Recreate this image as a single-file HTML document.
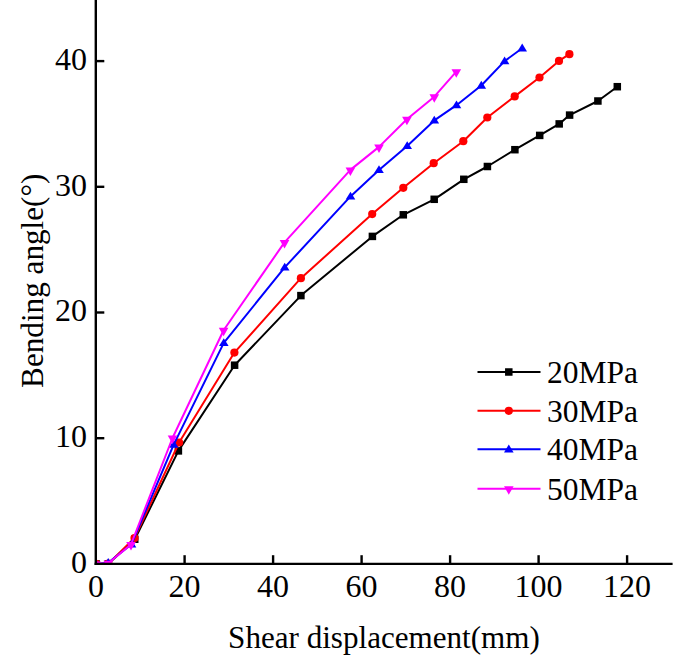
<!DOCTYPE html>
<html><head><meta charset="utf-8"><style>
html,body{margin:0;padding:0;background:#fff;}
svg{display:block;}
text{font-family:"Liberation Serif",serif;fill:#000;}
</style></head><body>
<svg width="685" height="669" viewBox="0 0 685 669">
<g>
<polyline points="96.1,563.9 108.2,563.9 134.8,539.2 178.4,450.9 234.6,365.2 300.9,295.6 372.4,236.4 403.3,214.8 434.2,199.3 463.8,179.3 487.4,166.5 514.9,149.7 539.7,135.4 559.2,123.9 569.6,115.1 597.9,101.0 617.3,86.7" fill="none" stroke="#000000" stroke-width="2" stroke-linejoin="round"/>
<rect x="92.35" y="560.15" width="7.5" height="7.5" fill="#000000"/><rect x="104.45" y="560.15" width="7.5" height="7.5" fill="#000000"/><rect x="131.00" y="535.50" width="7.5" height="7.5" fill="#000000"/><rect x="174.65" y="447.15" width="7.5" height="7.5" fill="#000000"/><rect x="230.85" y="361.45" width="7.5" height="7.5" fill="#000000"/><rect x="297.15" y="291.85" width="7.5" height="7.5" fill="#000000"/><rect x="368.65" y="232.65" width="7.5" height="7.5" fill="#000000"/><rect x="399.55" y="211.05" width="7.5" height="7.5" fill="#000000"/><rect x="430.45" y="195.55" width="7.5" height="7.5" fill="#000000"/><rect x="460.05" y="175.55" width="7.5" height="7.5" fill="#000000"/><rect x="483.65" y="162.75" width="7.5" height="7.5" fill="#000000"/><rect x="511.15" y="145.95" width="7.5" height="7.5" fill="#000000"/><rect x="535.95" y="131.65" width="7.5" height="7.5" fill="#000000"/><rect x="555.45" y="120.15" width="7.5" height="7.5" fill="#000000"/><rect x="565.85" y="111.35" width="7.5" height="7.5" fill="#000000"/><rect x="594.15" y="97.25" width="7.5" height="7.5" fill="#000000"/><rect x="613.55" y="82.95" width="7.5" height="7.5" fill="#000000"/>
<polyline points="96.1,563.9 108.4,563.6 134.5,538.0 179.1,442.5 234.4,352.6 300.9,278.2 372.2,214.1 403.3,187.8 433.7,163.2 463.3,141.2 487.3,117.5 514.7,96.4 539.5,77.5 559.0,60.9 569.4,54.2" fill="none" stroke="#ff0000" stroke-width="2" stroke-linejoin="round"/>
<circle cx="96.10" cy="563.90" r="4.1" fill="#ff0000"/><circle cx="108.40" cy="563.60" r="4.1" fill="#ff0000"/><circle cx="134.50" cy="538.00" r="4.1" fill="#ff0000"/><circle cx="179.10" cy="442.50" r="4.1" fill="#ff0000"/><circle cx="234.40" cy="352.60" r="4.1" fill="#ff0000"/><circle cx="300.90" cy="278.20" r="4.1" fill="#ff0000"/><circle cx="372.20" cy="214.10" r="4.1" fill="#ff0000"/><circle cx="403.30" cy="187.80" r="4.1" fill="#ff0000"/><circle cx="433.70" cy="163.20" r="4.1" fill="#ff0000"/><circle cx="463.30" cy="141.20" r="4.1" fill="#ff0000"/><circle cx="487.30" cy="117.50" r="4.1" fill="#ff0000"/><circle cx="514.70" cy="96.40" r="4.1" fill="#ff0000"/><circle cx="539.50" cy="77.50" r="4.1" fill="#ff0000"/><circle cx="559.00" cy="60.90" r="4.1" fill="#ff0000"/><circle cx="569.40" cy="54.20" r="4.1" fill="#ff0000"/>
<polyline points="96.1,563.9 108.2,562.8 131.5,544.2 173.7,444.6 223.8,342.9 284.7,267.4 350.5,196.4 379.0,169.9 407.2,145.9 434.3,120.4 456.5,105.2 481.3,85.5 504.6,61.1 522.2,48.3" fill="none" stroke="#0000ff" stroke-width="2" stroke-linejoin="round"/>
<polygon points="96.10,559.20 100.90,567.10 91.30,567.10" fill="#0000ff"/><polygon points="108.20,558.10 113.00,566.00 103.40,566.00" fill="#0000ff"/><polygon points="131.50,539.50 136.30,547.40 126.70,547.40" fill="#0000ff"/><polygon points="173.70,439.90 178.50,447.80 168.90,447.80" fill="#0000ff"/><polygon points="223.80,338.20 228.60,346.10 219.00,346.10" fill="#0000ff"/><polygon points="284.70,262.70 289.50,270.60 279.90,270.60" fill="#0000ff"/><polygon points="350.50,191.70 355.30,199.60 345.70,199.60" fill="#0000ff"/><polygon points="379.00,165.20 383.80,173.10 374.20,173.10" fill="#0000ff"/><polygon points="407.20,141.20 412.00,149.10 402.40,149.10" fill="#0000ff"/><polygon points="434.30,115.70 439.10,123.60 429.50,123.60" fill="#0000ff"/><polygon points="456.50,100.45 461.30,108.35 451.70,108.35" fill="#0000ff"/><polygon points="481.30,80.80 486.10,88.70 476.50,88.70" fill="#0000ff"/><polygon points="504.60,56.40 509.40,64.30 499.80,64.30" fill="#0000ff"/><polygon points="522.20,43.60 527.00,51.50 517.40,51.50" fill="#0000ff"/>
<polyline points="96.1,563.9 108.2,563.2 131.0,544.5 172.5,438.0 223.6,330.2 284.5,242.4 350.4,169.9 379.0,146.9 406.9,119.2 434.3,96.7 456.3,71.7" fill="none" stroke="#ff00ff" stroke-width="2" stroke-linejoin="round"/>
<polygon points="91.30,561.40 100.90,561.40 96.10,570.00" fill="#ff00ff"/><polygon points="103.40,560.70 113.00,560.70 108.20,569.30" fill="#ff00ff"/><polygon points="126.20,542.00 135.80,542.00 131.00,550.60" fill="#ff00ff"/><polygon points="167.70,435.50 177.30,435.50 172.50,444.10" fill="#ff00ff"/><polygon points="218.80,327.70 228.40,327.70 223.60,336.30" fill="#ff00ff"/><polygon points="279.70,239.90 289.30,239.90 284.50,248.50" fill="#ff00ff"/><polygon points="345.60,167.40 355.20,167.40 350.40,176.00" fill="#ff00ff"/><polygon points="374.20,144.40 383.80,144.40 379.00,153.00" fill="#ff00ff"/><polygon points="402.10,116.70 411.70,116.70 406.90,125.30" fill="#ff00ff"/><polygon points="429.50,94.20 439.10,94.20 434.30,102.80" fill="#ff00ff"/><polygon points="451.50,69.20 461.10,69.20 456.30,77.80" fill="#ff00ff"/>
</g>
<rect x="87" y="540" width="8.799999999999997" height="40" fill="#fff"/>
<rect x="87" y="563.9" width="60" height="10" fill="#fff"/>
<g stroke="#000" stroke-width="2.4" fill="none">
<line x1="95.8" y1="-5" x2="95.8" y2="565.1"/>
<line x1="94.6" y1="563.9" x2="672.6" y2="563.9"/>
<line x1="184.60" y1="563.9" x2="184.60" y2="555.2"/>
<line x1="273.10" y1="563.9" x2="273.10" y2="555.2"/>
<line x1="361.60" y1="563.9" x2="361.60" y2="555.2"/>
<line x1="450.10" y1="563.9" x2="450.10" y2="555.2"/>
<line x1="538.60" y1="563.9" x2="538.60" y2="555.2"/>
<line x1="627.10" y1="563.9" x2="627.10" y2="555.2"/>
<line x1="95.8" y1="438.20" x2="104.3" y2="438.20"/>
<line x1="95.8" y1="312.50" x2="104.3" y2="312.50"/>
<line x1="95.8" y1="186.80" x2="104.3" y2="186.80"/>
<line x1="95.8" y1="61.10" x2="104.3" y2="61.10"/>
</g>
<g font-size="32">
<text x="96.10" y="596.6" text-anchor="middle">0</text>
<text x="184.60" y="596.6" text-anchor="middle">20</text>
<text x="273.10" y="596.6" text-anchor="middle">40</text>
<text x="361.60" y="596.6" text-anchor="middle">60</text>
<text x="450.10" y="596.6" text-anchor="middle">80</text>
<text x="538.60" y="596.6" text-anchor="middle">100</text>
<text x="627.10" y="596.6" text-anchor="middle">120</text>
<text x="87" y="572.70" text-anchor="end">0</text>
<text x="87" y="447.00" text-anchor="end">10</text>
<text x="87" y="321.30" text-anchor="end">20</text>
<text x="87" y="195.60" text-anchor="end">30</text>
<text x="87" y="69.90" text-anchor="end">40</text>
</g>
<line x1="477.5" y1="372" x2="540.5" y2="372" stroke="#000000" stroke-width="2"/>
<rect x="505.05" y="368.25" width="7.5" height="7.5" fill="#000000"/>
<text x="547" y="383.0" font-size="31.5">20MPa</text>
<line x1="477.5" y1="410.8" x2="540.5" y2="410.8" stroke="#ff0000" stroke-width="2"/>
<circle cx="508.80" cy="410.80" r="4.1" fill="#ff0000"/>
<text x="547" y="421.8" font-size="31.5">30MPa</text>
<line x1="477.5" y1="449.3" x2="540.5" y2="449.3" stroke="#0000ff" stroke-width="2"/>
<polygon points="508.80,444.60 513.60,452.50 504.00,452.50" fill="#0000ff"/>
<text x="547" y="460.3" font-size="31.5">40MPa</text>
<line x1="477.5" y1="488.7" x2="540.5" y2="488.7" stroke="#ff00ff" stroke-width="2"/>
<polygon points="504.00,486.20 513.60,486.20 508.80,494.80" fill="#ff00ff"/>
<text x="547" y="499.7" font-size="31.5">50MPa</text>
<text x="228.1" y="647.6" font-size="31.1">Shear displacement(mm)</text>
<text transform="translate(42.5,387.9) rotate(-90)" font-size="31.2">Bending angle(°)</text>
</svg>
</body></html>
